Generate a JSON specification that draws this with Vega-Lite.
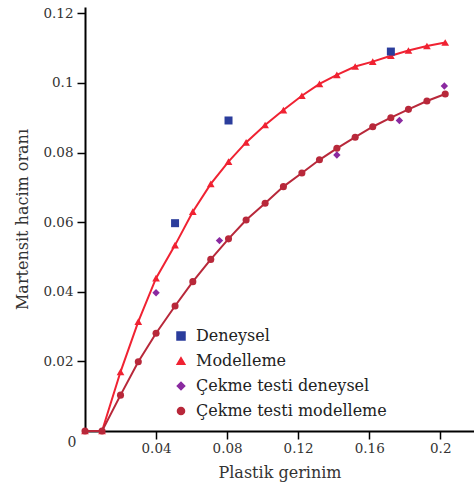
{
  "$schema": "https://vega.github.io/schema/vega-lite/v6.json",
  "width": 389,
  "height": 424,
  "autosize": {"type": "none"},
  "padding": {"left": 85, "top": 7, "right": 0, "bottom": 64},
  "background": "white",
  "config": {
    "view": {"stroke": null},
    "font": "DejaVu Serif",
    "axis": {
      "grid": false,
      "domainColor": "#000",
      "domainWidth": 2,
      "tickColor": "#000",
      "tickWidth": 1.5,
      "labelFont": "DejaVu Serif",
      "labelFontSize": 13.5,
      "labelColor": "#333",
      "titleFont": "DejaVu Serif",
      "titleFontSize": 16,
      "titleFontWeight": "normal",
      "titleColor": "#333"
    },
    "legend": {
      "orient": "none",
      "legendX": 88,
      "legendY": 321,
      "padding": 0,
      "rowPadding": 9,
      "labelFont": "DejaVu Serif",
      "labelFontSize": 16,
      "labelColor": "#222",
      "labelOffset": 7,
      "labelLimit": 400
    }
  },
  "data": {
    "values": [
      {"series": "Modelleme", "x": 0, "y": 0},
      {"series": "Modelleme", "x": 0.0096, "y": 0},
      {"series": "Modelleme", "x": 0.02, "y": 0.017},
      {"series": "Modelleme", "x": 0.03, "y": 0.0314},
      {"series": "Modelleme", "x": 0.04, "y": 0.0439},
      {"series": "Modelleme", "x": 0.0507, "y": 0.0534},
      {"series": "Modelleme", "x": 0.0607, "y": 0.063},
      {"series": "Modelleme", "x": 0.0708, "y": 0.071},
      {"series": "Modelleme", "x": 0.0808, "y": 0.0774},
      {"series": "Modelleme", "x": 0.0907, "y": 0.0829},
      {"series": "Modelleme", "x": 0.1014, "y": 0.0879},
      {"series": "Modelleme", "x": 0.1117, "y": 0.0922},
      {"series": "Modelleme", "x": 0.1221, "y": 0.0963},
      {"series": "Modelleme", "x": 0.132, "y": 0.0997},
      {"series": "Modelleme", "x": 0.1418, "y": 0.1023},
      {"series": "Modelleme", "x": 0.1521, "y": 0.1047},
      {"series": "Modelleme", "x": 0.162, "y": 0.1061},
      {"series": "Modelleme", "x": 0.1722, "y": 0.1078},
      {"series": "Modelleme", "x": 0.1821, "y": 0.1093},
      {"series": "Modelleme", "x": 0.1925, "y": 0.1106},
      {"series": "Modelleme", "x": 0.2028, "y": 0.1116},
      {"series": "Çekme testi modelleme", "x": 0, "y": 0},
      {"series": "Çekme testi modelleme", "x": 0.0096, "y": 0},
      {"series": "Çekme testi modelleme", "x": 0.02, "y": 0.0103},
      {"series": "Çekme testi modelleme", "x": 0.03, "y": 0.0199},
      {"series": "Çekme testi modelleme", "x": 0.04, "y": 0.0281},
      {"series": "Çekme testi modelleme", "x": 0.0507, "y": 0.0359},
      {"series": "Çekme testi modelleme", "x": 0.0607, "y": 0.0429},
      {"series": "Çekme testi modelleme", "x": 0.0708, "y": 0.0493},
      {"series": "Çekme testi modelleme", "x": 0.0808, "y": 0.0552},
      {"series": "Çekme testi modelleme", "x": 0.0907, "y": 0.0606},
      {"series": "Çekme testi modelleme", "x": 0.1014, "y": 0.0654},
      {"series": "Çekme testi modelleme", "x": 0.1117, "y": 0.0702},
      {"series": "Çekme testi modelleme", "x": 0.1221, "y": 0.0741},
      {"series": "Çekme testi modelleme", "x": 0.132, "y": 0.0779},
      {"series": "Çekme testi modelleme", "x": 0.1418, "y": 0.0812},
      {"series": "Çekme testi modelleme", "x": 0.1521, "y": 0.0844},
      {"series": "Çekme testi modelleme", "x": 0.162, "y": 0.0874},
      {"series": "Çekme testi modelleme", "x": 0.1722, "y": 0.09},
      {"series": "Çekme testi modelleme", "x": 0.1821, "y": 0.0924},
      {"series": "Çekme testi modelleme", "x": 0.1925, "y": 0.0948},
      {"series": "Çekme testi modelleme", "x": 0.2028, "y": 0.0968},
      {"series": "Deneysel", "x": 0.0507, "y": 0.0597},
      {"series": "Deneysel", "x": 0.0808, "y": 0.0892},
      {"series": "Deneysel", "x": 0.1722, "y": 0.109},
      {"series": "Çekme testi deneysel", "x": 0.04, "y": 0.0397},
      {"series": "Çekme testi deneysel", "x": 0.0757, "y": 0.0547},
      {"series": "Çekme testi deneysel", "x": 0.1418, "y": 0.0793},
      {"series": "Çekme testi deneysel", "x": 0.177, "y": 0.0892},
      {"series": "Çekme testi deneysel", "x": 0.2023, "y": 0.0991}
    ]
  },
  "encoding": {
    "x": {
      "field": "x", "type": "quantitative",
      "scale": {"domain": [0, 0.219], "nice": false, "zero": true},
      "axis": {
        "title": "Plastik gerinim",
        "values": [0.04, 0.08, 0.12, 0.16, 0.2],
        "labelExpr": "'' + datum.value",
        "tickSize": 8,
        "labelPadding": 2,
        "titlePadding": 10
      }
    },
    "y": {
      "field": "y", "type": "quantitative",
      "scale": {"domain": [0, 0.1218], "nice": false},
      "axis": {
        "title": "Martensit hacim oranı",
        "values": [0.02, 0.04, 0.06, 0.08, 0.1, 0.12],
        "labelExpr": "'' + datum.value",
        "tickSize": 8,
        "labelPadding": 4,
        "titlePadding": 12
      }
    }
  },
  "layer": [
    {
      "transform": [{"filter": "datum.series == 'Modelleme' || datum.series == 'Çekme testi modelleme'"}],
      "mark": {"type": "line", "strokeWidth": 2},
      "encoding": {
        "color": {"field": "series", "type": "nominal",
          "scale": {"domain": ["Deneysel", "Modelleme", "Çekme testi deneysel", "Çekme testi modelleme"],
                    "range": ["#2b3d9c", "#f02232", "#8a2aa0", "#b8283a"]}},
        "detail": {"field": "series"}
      }
    },
    {
      "mark": {"type": "point", "filled": true, "opacity": 1},
      "encoding": {
        "color": {"field": "series", "type": "nominal", "legend": {"title": null}},
        "shape": {"field": "series", "type": "nominal",
          "scale": {"domain": ["Deneysel", "Modelleme", "Çekme testi deneysel", "Çekme testi modelleme"],
                    "range": ["square", "triangle-up", "diamond", "circle"]},
          "legend": {"title": null}},
        "size": {"field": "series", "type": "nominal", "legend": null,
          "scale": {"domain": ["Deneysel", "Modelleme", "Çekme testi deneysel", "Çekme testi modelleme"],
                    "range": [64, 50, 40, 55]}}
      }
    },
    {
      "data": {"values": [{"x": 0, "y": 0, "label": "0"}]},
      "mark": {"type": "text", "dx": -13, "dy": 12, "fontSize": 14, "font": "DejaVu Serif", "color": "#333"},
      "encoding": {"text": {"field": "label"}}
    }
  ]
}
